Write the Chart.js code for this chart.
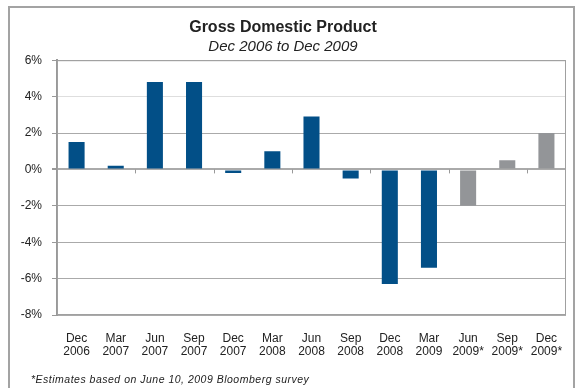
<!DOCTYPE html>
<html>
<head>
<meta charset="utf-8">
<script src="https://cdn.jsdelivr.net/npm/chart.js@4/dist/chart.umd.min.js"></script>
<style>
    html, body { margin: 0; padding: 0; background: #fff; }
    #wrap { position: relative; width: 579px; height: 388px; overflow: hidden; }
    #frame {
        position: absolute; left: 8px; top: 6px; width: 567px; height: 400px;
        border: 2px solid #a3a3a3; box-sizing: border-box;
    }
    #note {
        position: absolute; left: 31px; top: 373px;
        font: italic 10.5px "Liberation Sans", Arial, sans-serif; color: #222;
        letter-spacing: 0.5px;
    }
    canvas { position: absolute; left: 0; top: 0; }
</style>
</head>
<body>
<div id="wrap">
    <div id="frame"></div>
    <canvas id="gdp" width="579" height="388"></canvas>
    <div id="note">*Estimates based on June 10, 2009 Bloomberg survey</div>
</div>
<script>
// quarter labels (two lines each)
const quarters = [
    ['Dec', '2006'], ['Mar', '2007'], ['Jun', '2007'], ['Sep', '2007'],
    ['Dec', '2007'], ['Mar', '2008'], ['Jun', '2008'], ['Sep', '2008'],
    ['Dec', '2008'], ['Mar', '2009'], ['Jun', '2009*'], ['Sep', '2009*'], ['Dec', '2009*']
];
// annualized GDP change, %
const gdpGrowth = [1.5, 0.2, 4.8, 4.8, -0.2, 1.0, 2.9, -0.5, -6.3, -5.4, -2.0, 0.5, 2.0];
const isEstimate = [false, false, false, false, false, false, false, false, false, false, true, true, true];

const FONT = '"Liberation Sans", Arial, sans-serif';

// plot box + small tick marks on zero line (every 2 categories)
const plotBox = {
    id: 'plotBox',
    beforeDatasetsDraw(chart) {
        const { ctx, chartArea: a, scales } = chart;
        ctx.save();
        ctx.strokeStyle = '#a0a0a0';
        ctx.lineWidth = 1;
        ctx.strokeRect(a.left + 0.5, a.top + 0.5, a.right - a.left - 1, a.bottom - a.top - 1);
        const y0 = scales.y.getPixelForValue(0);
        ctx.strokeStyle = '#999';
        ctx.beginPath();
        for (let i = 2; i < quarters.length; i += 2) {
            const x = Math.round(scales.x.getPixelForValue(i - 0.5)) + 0.5;
            ctx.moveTo(x, y0);
            ctx.lineTo(x, y0 + 4);
        }
        ctx.stroke();
        ctx.restore();
    }
};

const ctx = document.getElementById('gdp').getContext('2d');
new Chart(ctx, {
    type: 'bar',
    data: {
        labels: quarters,
        datasets: [{
            data: gdpGrowth,
            backgroundColor: isEstimate.map(e => e ? '#939598' : '#024f87'),
            barPercentage: 0.41,
            categoryPercentage: 1.0
        }]
    },
    plugins: [plotBox],
    options: {
        responsive: false,
        animation: false,
        layout: { padding: { left: 0, right: 13, top: 0, bottom: 0 } },
        plugins: {
            legend: { display: false },
            tooltip: { enabled: false },
            title: {
                display: true,
                text: 'Gross Domestic Product',
                color: '#222',
                font: { family: FONT, size: 16, weight: 'bold', lineHeight: 1.2 },
                padding: { top: 18, bottom: 1 }
            },
            subtitle: {
                display: true,
                text: 'Dec 2006 to Dec 2009',
                color: '#222',
                font: { family: FONT, size: 15, style: 'italic', lineHeight: 1.2 },
                padding: { top: 0, bottom: 4 }
            }
        },
        scales: {
            x: {
                grid: { display: false },
                border: { display: false },
                ticks: {
                    color: '#222',
                    font: { family: FONT, size: 12, lineHeight: 1.1 },
                    padding: 9,
                    maxRotation: 0,
                    autoSkip: false
                },
                afterFit(scale) { scale.height = 73; }
            },
            y: {
                min: -8,
                max: 6,
                grid: {
                    color: c => (c.tick && c.tick.value === 4) ? '#dedede' : '#aaaaaa',
                    lineWidth: c => (c.tick && c.tick.value === 0) ? 2 : 1,
                    tickColor: '#999',
                    tickLength: 5
                },
                border: { color: '#999', width: 2 },
                ticks: {
                    stepSize: 2,
                    color: '#222',
                    font: { family: FONT, size: 12 },
                    padding: 10,
                    callback: v => v + '%'
                },
                afterFit(scale) { scale.width = 57; }
            }
        }
    }
});
</script>
</body>
</html>
